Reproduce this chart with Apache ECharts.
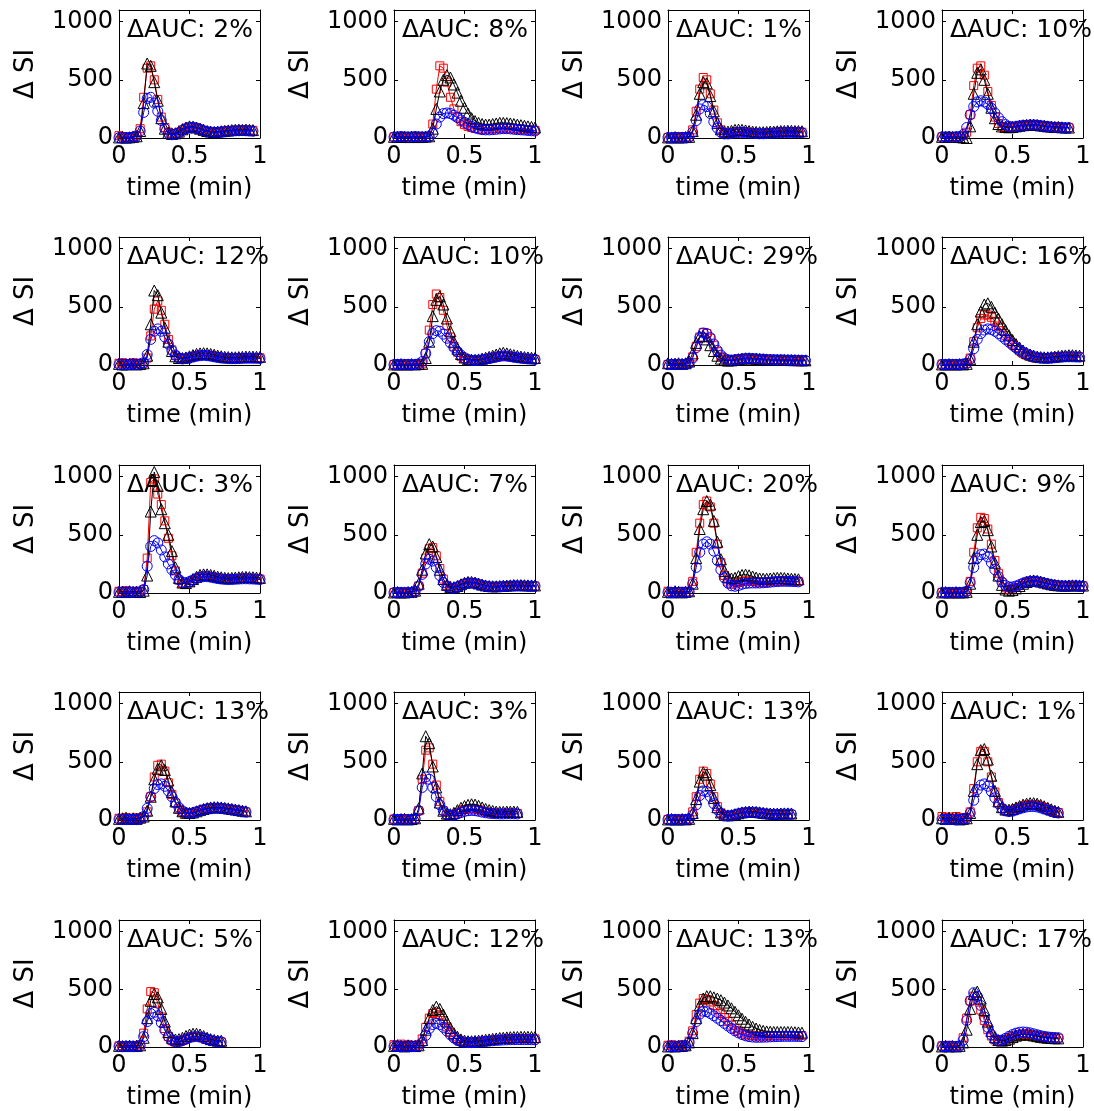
<!DOCTYPE html>
<html>
<head>
<meta charset="utf-8">
<title>ΔSI time curves</title>
<script src="https://cdn.jsdelivr.net/npm/echarts@6/dist/echarts.min.js"></script>
<style>
  html, body { margin: 0; padding: 0; background: #ffffff; }
  #chart { width: 1094px; height: 1111px; }
</style>
</head>
<body>
<div id="chart"></div>
<script>
// Sampling interval of every curve (min); point i sits at i * T_STEP.
const T_STEP = 0.025;

// Panel labels, row by row.
const aucLabels = ['2%', '8%', '1%', '10%', '12%', '10%', '29%', '16%', '3%', '7%',
                   '20%', '9%', '13%', '3%', '13%', '1%', '5%', '12%', '13%', '17%'];

// Axis ticks
const xTicks = [0, 0.5, 1];
const yTicks = [0, 500, 1000];

// ---- ΔSI curves: triangles (black), squares (red), circles (blue) ----
// Row 1
const tri01 = [5,8,3,6,10,15,60,300,640,620,480,320,170,80,45,35,40,55,75,90,100,98,90,80,70,60,55,52,55,58,62,65,68,70,72,70,72,70,68];
const sq01  = [20,10,5,8,12,20,80,350,600,620,500,330,180,90,50,35,38,50,70,85,95,95,88,75,65,58,52,50,52,55,60,62,65,66,68,68,70,68,66];
const circ01 = [2,5,3,5,8,15,60,220,340,350,300,230,150,80,40,28,32,45,65,80,90,90,85,75,62,55,50,48,50,52,55,58,60,62,62,63,62,60,58];

const tri02 = [10,10,12,10,8,10,12,8,10,12,15,80,250,400,500,540,520,460,390,320,260,210,170,145,130,120,115,115,120,125,130,130,128,125,120,115,110,105,100,95,90];
const sq02  = [10,8,10,12,8,10,12,10,8,10,12,120,420,620,600,480,350,250,180,140,115,100,90,82,78,75,75,78,80,82,85,85,84,82,80,78,75,72,70,68,65];
const circ02 = [8,10,12,10,8,10,12,10,8,10,12,40,120,180,210,215,210,195,175,155,135,115,100,88,78,72,70,70,72,75,78,80,80,78,75,72,70,68,65,62,60];

const tri03 = [5,5,8,5,5,8,10,60,200,380,480,470,360,230,130,75,55,55,62,70,72,70,65,60,55,52,50,50,52,55,55,58,60,60,62,62,60,60,58];
const sq03  = [5,5,5,8,5,8,10,70,230,420,520,500,380,240,130,70,45,40,45,52,55,55,52,48,45,42,40,40,42,45,48,50,52,52,54,54,52,52,50];
const circ03 = [3,3,5,3,5,5,8,50,150,250,285,270,210,140,85,50,35,35,40,45,48,48,45,42,40,38,36,36,38,40,42,44,45,46,47,47,46,46,45];

const tri04 = [10,10,12,10,10,8,5,0,100,380,560,590,500,380,260,170,120,100,95,92,95,100,105,110,112,115,115,112,108,105,100,98,95,95,92,90,90];
const sq04  = [10,12,10,10,12,10,20,50,200,450,600,620,540,400,280,180,125,100,92,90,92,98,104,108,110,112,112,110,106,102,98,95,92,92,90,88,88];
const circ04 = [8,10,10,8,10,12,30,90,200,270,310,320,310,290,255,215,175,140,115,100,95,98,104,108,110,112,112,110,106,102,98,95,92,92,90,88,88];

// Row 2
const tri05 = [10,5,5,8,10,5,8,15,80,350,640,600,450,320,200,120,75,60,60,65,75,85,95,100,102,100,95,88,80,75,70,68,66,66,68,70,72,72,72,70,70];
const sq05  = [15,20,10,12,20,15,10,15,60,250,480,550,470,350,220,130,80,60,55,58,65,72,80,85,86,85,82,76,70,65,62,60,58,58,60,62,64,64,64,62,62];
const circ05 = [5,5,3,5,5,3,8,20,90,220,290,310,290,240,180,125,85,60,52,55,62,70,76,80,82,80,76,70,65,60,57,55,54,54,55,57,58,58,58,57,56];

const tri06 = [5,5,8,5,5,8,5,8,10,60,200,420,560,590,520,400,290,200,140,95,65,50,45,45,48,55,62,70,80,90,100,105,100,92,85,78,72,68,65,62,60];
const sq06  = [5,8,5,5,8,5,5,8,10,100,300,520,610,580,470,340,240,160,110,75,55,42,38,38,40,45,50,56,62,70,76,80,78,72,66,62,58,55,52,50,48];
const circ06 = [3,5,3,5,5,3,5,10,30,100,200,270,295,290,265,230,190,150,115,85,62,48,40,38,40,44,50,56,62,68,74,78,76,72,66,62,58,55,52,50,48];

const tri07 = [15,10,12,15,10,15,30,100,190,245,250,220,170,120,80,55,42,38,40,45,50,55,58,58,56,54,52,50,48,46,45,44,44,44,43,42,42,41,40,40];
const sq07  = [5,8,10,5,8,10,20,70,160,240,280,270,230,170,115,75,52,42,42,46,50,54,56,56,55,53,51,49,47,46,45,44,44,43,42,42,41,40,40,39];
const circ07 = [3,5,3,5,5,5,15,60,150,235,275,270,235,180,125,85,58,45,42,45,48,52,55,56,55,53,51,49,47,46,45,44,44,43,42,42,41,40,40,39];

const tri08 = [5,5,8,5,5,8,5,10,50,200,350,460,520,530,500,450,400,350,300,255,215,180,150,125,105,90,80,72,68,66,66,68,72,76,80,82,84,84,82,80];
const sq08  = [8,5,5,8,5,5,8,15,60,200,320,400,430,430,410,375,335,295,255,215,180,150,122,100,85,74,66,62,60,60,62,65,68,70,72,74,74,74,72,70];
const circ08 = [5,5,3,5,5,3,8,15,50,140,220,270,300,310,305,290,270,245,220,195,170,148,128,110,95,82,72,64,60,58,58,60,63,66,68,70,70,70,69,68];

// Row 3
const tri09 = [10,12,8,15,10,12,8,20,150,700,1040,920,720,600,500,360,220,130,90,85,100,120,140,155,160,160,155,148,140,135,130,128,130,132,135,138,138,136,135,132,130];
const sq09  = [15,10,20,10,15,10,12,30,300,950,980,850,760,620,470,320,190,110,80,78,90,108,125,138,145,145,140,134,128,124,120,118,120,122,125,127,128,126,125,122,120];
const circ09 = [5,8,5,8,5,8,10,30,230,400,450,430,370,310,250,200,155,115,92,88,98,112,125,135,140,140,136,130,124,120,117,115,116,118,120,122,122,121,120,118,116];

const tri10 = [5,8,5,5,8,10,20,80,200,340,420,400,310,200,120,70,50,50,60,75,88,95,95,90,82,72,65,60,58,58,60,62,64,66,68,68,68,67,66,65,65];
const sq10  = [5,5,8,5,5,8,15,60,170,300,380,390,320,210,120,65,42,42,52,66,80,88,88,84,76,67,60,55,53,53,55,57,59,61,62,62,62,61,60,60,60];
const circ10 = [3,5,5,3,5,5,15,60,160,250,290,275,220,150,90,55,40,42,52,65,78,86,86,82,74,65,58,54,52,52,54,56,58,60,61,61,61,60,59,59,58];

const tri11 = [10,5,15,10,5,10,15,80,300,550,720,790,760,620,440,290,190,140,125,130,145,155,158,152,142,132,125,122,122,125,128,130,130,128,125,122,120,118];
const sq11  = [15,10,5,10,15,5,10,100,350,600,760,790,740,600,420,260,150,95,75,78,90,100,104,102,98,94,92,92,94,97,100,102,104,104,103,102,100,98];
const circ11 = [5,3,5,5,3,5,10,80,220,350,420,440,420,360,280,200,130,85,62,58,65,75,82,85,86,86,86,88,90,93,96,98,100,100,100,99,98,96];

const tri12 = [5,8,5,5,8,5,5,10,80,300,500,610,620,540,400,260,150,70,30,20,25,40,60,80,95,105,108,105,98,90,82,75,70,66,64,64,65,66,66,65,64];
const sq12  = [5,5,5,8,5,5,8,15,100,350,560,650,640,550,420,280,170,90,45,30,35,48,65,82,95,102,104,100,94,86,78,72,67,63,61,61,62,63,63,62,61];
const circ12 = [3,3,5,3,3,5,5,15,90,220,300,330,335,310,260,200,140,95,65,52,52,60,72,85,95,100,102,98,92,85,78,72,67,63,61,60,60,61,61,60,59];

// Row 4
const tri13 = [10,15,20,10,15,10,20,30,80,200,350,440,470,430,340,240,160,105,75,62,60,65,75,85,95,102,108,110,110,108,104,100,95,90,85,80,75];
const sq13  = [15,10,20,15,10,20,15,25,70,200,370,470,480,420,320,220,145,95,68,56,55,60,70,80,90,97,102,104,104,102,98,94,90,85,80,75,70];
const circ13 = [5,5,3,5,5,3,10,30,100,200,270,305,310,290,250,200,150,108,78,62,58,62,70,80,88,95,100,102,102,100,96,92,88,83,78,73,68];

const tri14 = [10,5,8,10,5,8,15,100,400,720,660,460,280,150,80,55,50,62,85,105,120,130,135,132,122,108,95,85,78,72,70,70,72,72,72,70];
const sq14  = [8,5,10,5,8,5,10,80,350,600,620,480,300,160,80,45,38,45,62,78,90,96,98,95,88,78,70,64,60,58,57,57,58,58,58,57];
const circ14 = [3,5,3,5,3,5,10,80,280,370,350,280,200,130,80,50,40,42,52,64,74,80,82,80,75,68,62,58,55,53,52,52,53,53,53,52];

const tri15 = [5,8,5,5,8,5,10,60,180,330,410,390,300,190,110,65,45,40,42,50,58,65,70,72,72,70,66,62,58,56,55,55,56,57,57,56];
const sq15  = [5,5,8,5,5,8,10,70,200,350,420,400,310,200,115,62,40,34,36,44,52,58,62,64,64,62,58,54,50,48,47,47,48,49,49,48];
const circ15 = [3,3,5,3,3,5,8,45,130,210,250,245,200,140,88,55,38,34,38,46,54,60,64,66,66,64,60,56,52,50,49,49,50,51,51,50];

const tri16 = [15,10,20,10,15,5,10,15,60,250,480,600,610,520,380,250,160,110,90,88,95,108,120,132,140,145,145,140,130,118,105,92,80,70];
const sq16  = [30,20,25,15,30,20,15,20,70,270,500,590,590,500,370,240,150,100,80,78,85,98,110,120,128,132,132,127,118,106,94,82,72,64];
const circ16 = [5,5,3,5,3,5,8,15,60,170,260,300,310,290,245,190,140,100,78,72,76,86,96,105,112,116,116,112,104,94,84,74,66,60];

// Row 5
const tri17 = [10,8,10,12,8,10,15,80,250,400,460,430,330,220,130,80,65,68,80,95,108,115,115,108,95,80,68,60,56,54];
const sq17  = [10,12,8,10,12,8,20,120,330,480,470,380,260,160,90,55,42,45,56,70,82,90,92,88,80,68,58,50,46,44];
const circ17 = [5,3,5,5,3,5,12,90,220,290,300,270,210,145,90,58,45,46,55,68,80,88,90,86,78,67,57,50,46,44];

const tri18 = [10,15,10,5,15,10,8,15,60,150,250,320,350,330,280,220,165,120,88,66,55,50,50,52,55,58,62,66,70,74,78,80,83,85,86,87,88,88,88,87,86];
const sq18  = [20,15,25,10,20,15,10,20,70,170,250,290,300,280,230,175,125,88,64,50,42,40,40,42,45,48,52,55,58,61,64,66,68,70,71,72,72,72,72,71,70];
const circ18 = [5,5,3,5,5,3,5,10,40,100,160,195,205,195,170,138,105,78,58,46,40,38,38,40,42,45,48,51,54,57,59,61,62,63,64,64,64,64,64,63,62];

const tri19 = [5,10,5,8,10,15,40,120,250,360,420,440,440,430,420,405,385,360,335,305,275,245,218,195,175,160,148,140,135,132,130,130,130,130,130,130,128,126,124];
const sq19  = [15,20,10,15,20,10,50,140,280,380,420,410,390,360,325,290,255,222,190,162,140,122,110,102,97,95,94,94,95,96,97,98,99,100,100,100,100,99,98];
const circ19 = [3,5,3,5,8,10,40,120,220,285,310,305,290,270,250,228,205,182,160,140,122,108,97,90,86,84,84,85,86,88,89,90,91,92,92,92,92,91,90];

const tri20 = [5,10,5,8,5,10,40,150,330,460,480,420,320,220,140,85,60,55,60,72,86,98,106,110,110,106,100,94,88,84,80,78,76,75];
const sq20  = [10,5,15,10,8,12,80,250,400,440,400,320,230,150,95,62,50,52,62,76,90,102,110,114,114,110,104,98,92,87,83,80,78,76];
const circ20 = [5,3,5,5,3,8,60,230,400,470,440,360,260,170,105,68,55,60,75,92,108,120,128,130,128,122,114,106,98,92,87,84,82,80];

const panels = [
  [sq01, tri01, circ01], [sq02, tri02, circ02], [sq03, tri03, circ03], [sq04, tri04, circ04],
  [sq05, tri05, circ05], [sq06, tri06, circ06], [sq07, tri07, circ07], [sq08, tri08, circ08],
  [sq09, tri09, circ09], [sq10, tri10, circ10], [sq11, tri11, circ11], [sq12, tri12, circ12],
  [sq13, tri13, circ13], [sq14, tri14, circ14], [sq15, tri15, circ15], [sq16, tri16, circ16],
  [sq17, tri17, circ17], [sq18, tri18, circ18], [sq19, tri19, circ19], [sq20, tri20, circ20]
];

// ---- Layout and styling ----
const FONT = 'DejaVu Sans';
const COL_LEFT = [119, 394, 668, 942];
const ROW_TOP = [10, 237, 465, 692, 920];
const PLOT_W = 141, PLOT_H = 128;
const Y_MAX = 1100;

const MARKS = [
  { symbol: 'rect',     size: 8,  color: '#ff0000' },
  { symbol: 'triangle', size: 11, color: '#000000' },
  { symbol: 'circle',   size: 10, color: '#0000ff' }
];

const frameLine = { show: true, onZero: false, lineStyle: { color: '#000', width: 1 } };
const innerTick = { show: true, inside: true, length: 4, lineStyle: { color: '#000', width: 1 } };
const labelText = { color: '#000', fontSize: 24, fontFamily: FONT };

const grid = [], xAxis = [], yAxis = [], title = [], series = [];

panels.forEach((curves, k) => {
  const r = Math.floor(k / 4), c = k % 4;
  grid.push({ left: COL_LEFT[c], top: ROW_TOP[r], width: PLOT_W, height: PLOT_H, containLabel: false });

  const xBase = { gridIndex: k, type: 'value', min: xTicks[0], max: xTicks[xTicks.length - 1],
                  interval: xTicks[1] - xTicks[0], splitLine: { show: false },
                  axisLine: frameLine, axisTick: innerTick };
  xAxis.push(Object.assign({}, xBase, {
    position: 'bottom',
    axisLabel: Object.assign({ margin: 7, formatter: v => String(v) }, labelText),
    name: 'time (min)', nameLocation: 'middle', nameGap: 39, nameTextStyle: labelText
  }));
  xAxis.push(Object.assign({}, xBase, { position: 'top', axisLabel: { show: false } }));

  const yBase = { gridIndex: k, type: 'value', min: yTicks[0], max: Y_MAX,
                  interval: yTicks[1] - yTicks[0], splitLine: { show: false },
                  axisLine: frameLine, axisTick: innerTick };
  yAxis.push(Object.assign({}, yBase, {
    position: 'left',
    axisLabel: Object.assign({ margin: 6, showMaxLabel: false,
                               formatter: v => (yTicks.indexOf(v) >= 0 ? String(v) : '') }, labelText),
    name: 'Δ SI', nameLocation: 'middle', nameRotate: 90, nameGap: 80,
    nameTextStyle: Object.assign({}, labelText, { fontSize: 26 })
  }));
  yAxis.push(Object.assign({}, yBase, { position: 'right', axisLabel: { show: false } }));

  title.push({
    text: 'ΔAUC: ' + aucLabels[k],
    left: COL_LEFT[c] + 8, top: ROW_TOP[r] + 8, padding: 0,
    textStyle: { color: '#000', fontSize: 25, fontWeight: 'normal', fontFamily: FONT }
  });

  curves.forEach((vals, j) => {
    const m = MARKS[j];
    series.push({
      type: 'line',
      xAxisIndex: 2 * k, yAxisIndex: 2 * k,
      data: vals.map((v, i) => [+(i * T_STEP).toFixed(3), v]),
      symbol: m.symbol, symbolSize: m.size, showSymbol: true, showAllSymbol: true,
      clip: false, silent: true,
      lineStyle: { color: m.color, width: 1 },
      itemStyle: { color: 'rgba(0,0,0,0)', borderColor: m.color, borderWidth: 1 },
      emphasis: { disabled: true },
      z: 2 + j
    });
  });
});

const chart = echarts.init(document.getElementById('chart'), null, { renderer: 'canvas' });
chart.setOption({
  animation: false,
  backgroundColor: '#ffffff',
  title, grid, xAxis, yAxis, series
});
</script>
</body>
</html>
